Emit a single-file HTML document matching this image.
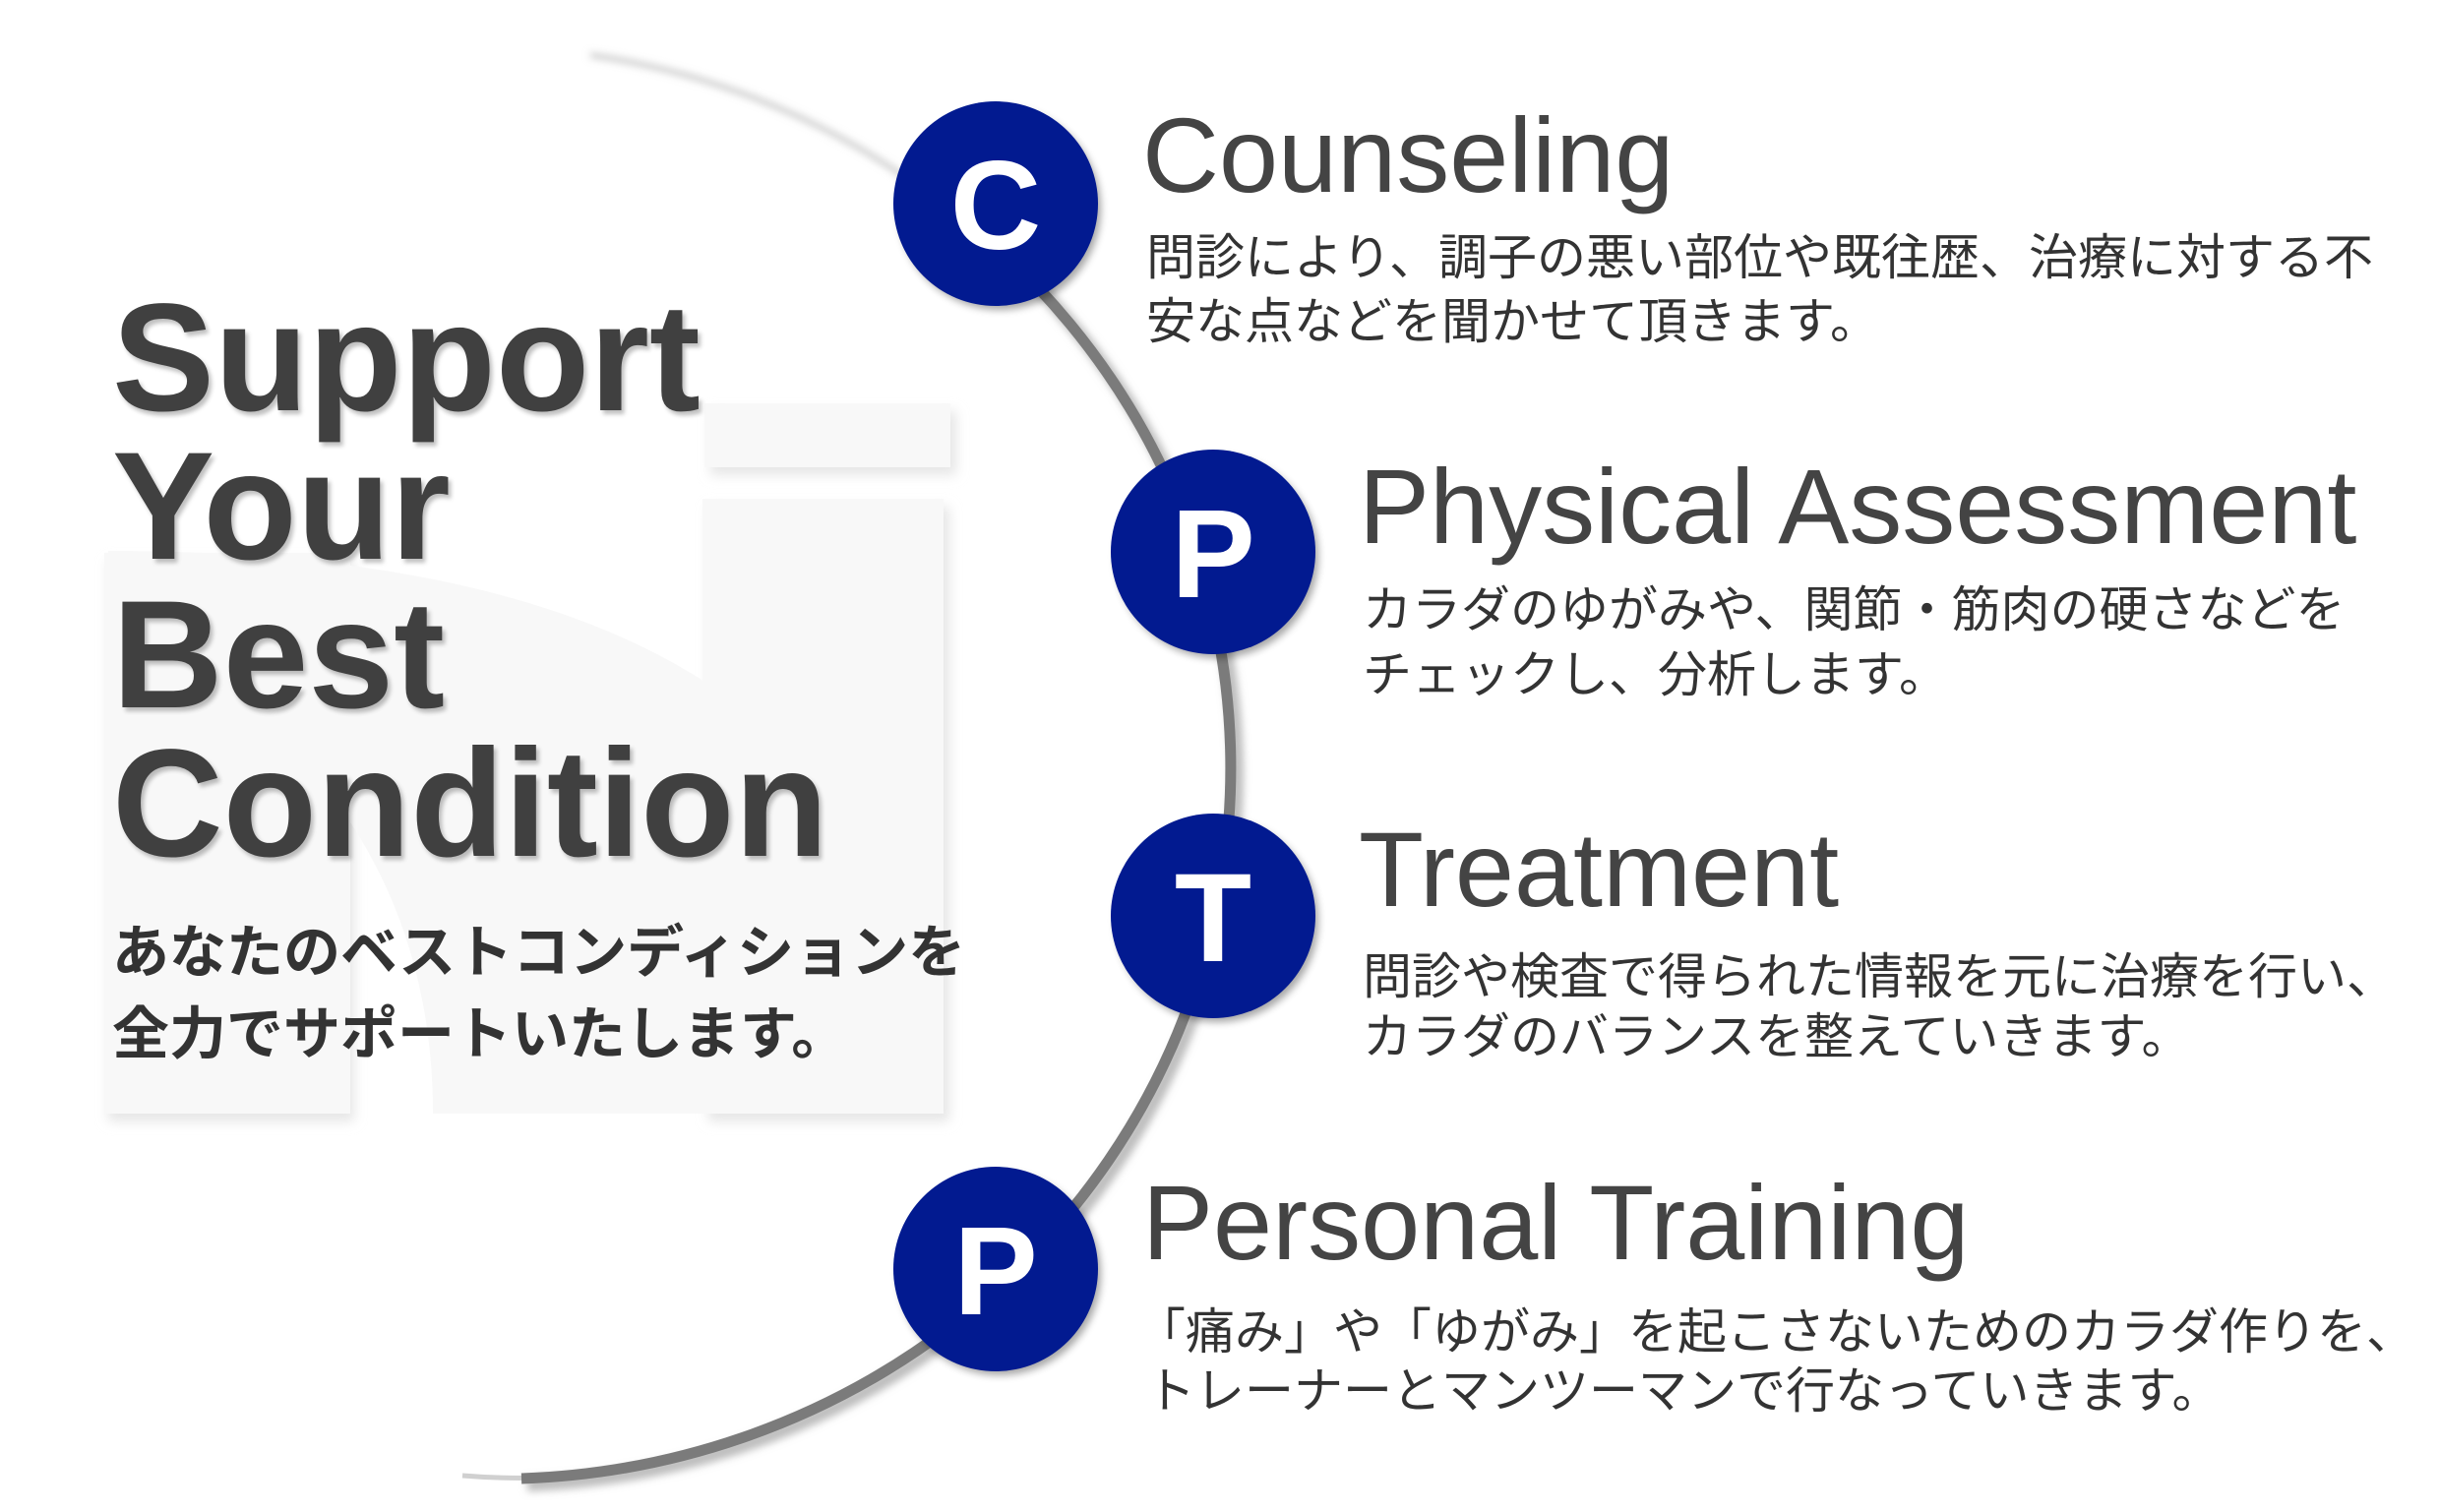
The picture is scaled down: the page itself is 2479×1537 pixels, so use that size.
<!DOCTYPE html>
<html><head><meta charset="utf-8"><style>
html,body{margin:0;padding:0;background:#fff;}
body{width:2479px;height:1537px;position:relative;overflow:hidden;font-family:"Liberation Sans","Noto Sans CJK JP",sans-serif;}
.t{position:absolute;white-space:nowrap;}
.big{font-weight:bold;font-size:156px;color:#404040;left:114px;letter-spacing:0px;text-shadow:3px 4px 4px rgba(0,0,0,0.25);line-height:1;}
.h{font-size:108px;color:#444;line-height:1;}
.b{font-size:50px;color:#333;line-height:1;}
.sub{font-size:58px;font-weight:bold;color:#333;left:114px;line-height:1;}
</style></head><body>
<svg width="2479" height="1537" style="position:absolute;left:0;top:0">
<defs>
<filter id="sh" x="-20%" y="-20%" width="140%" height="140%"><feGaussianBlur stdDeviation="6"/></filter>
<filter id="cs" x="-30%" y="-30%" width="160%" height="160%"><feGaussianBlur stdDeviation="4"/></filter>
</defs>
<g fill="#e6e6e6" filter="url(#sh)">
<rect x="722" y="418" width="250" height="65"/>
<rect x="720" y="515" width="245" height="625"/>
<rect x="110" y="570" width="250" height="570"/>
</g>
<g fill="#f8f8f8">
<rect x="716" y="410" width="250" height="65"/>
<rect x="714" y="507" width="245" height="625"/>
<rect x="106" y="562" width="250" height="570"/>
<path d="M110 560 Q600 560 800 760 Q950 900 950 1132 L440 1132 Q440 800 110 620 Z"/>
</g>
<!-- faint top / bottom arc -->
<path d="M 600 56 A 747 723 0 0 1 920 180" fill="none" stroke="#c8c8c8" stroke-width="5" filter="url(#cs)"/>
<path d="M 560 1502 A 747 723 0 0 1 470 1500" fill="none" stroke="#d0d0d0" stroke-width="5"/>
<path d="M 920 180 A 747 723 0 0 1 530 1503" fill="none" stroke="#bdbdbd" stroke-width="14" filter="url(#cs)" transform="translate(6,6)"/>
<path d="M 920 180 A 747 723 0 0 1 530 1503" fill="none" stroke="#7b7b7b" stroke-width="11"/>
<g fill="#000" opacity="0.35" filter="url(#cs)">
<circle cx="1016" cy="212" r="103"/><circle cx="1237" cy="566" r="103"/>
<circle cx="1237" cy="936" r="103"/><circle cx="1016" cy="1295" r="103"/>
</g>
<g fill="#021a90">
<circle cx="1012" cy="207" r="104"/><circle cx="1233" cy="561" r="104"/>
<circle cx="1233" cy="931" r="104"/><circle cx="1012" cy="1290" r="104"/>
</g>
<g fill="#fff" font-family="Liberation Sans, sans-serif" font-weight="bold" font-size="128" text-anchor="middle">
<text x="1012" y="253">C</text><text x="1233" y="607">P</text>
<text x="1233" y="977">T</text><text x="1012" y="1336">P</text>
</g>
</svg>
<div class="t big" style="top:286px">Support</div>
<div class="t big" style="top:437px">Your</div>
<div class="t big" style="top:588px">Best</div>
<div class="t big" style="top:739px">Condition</div>
<div class="t sub" style="top:940px">あなたのベストコンディションを</div>
<div class="t sub" style="top:1023px">全力でサポートいたします。</div>

<div class="t h" style="left:1161px;top:104px">Counseling</div>
<div class="t b" style="left:1165px;top:237px">問診により、調子の悪い部位や既往歴、治療に対する不</div>
<div class="t b" style="left:1165px;top:302px">安な点などを聞かせて頂きます。</div>

<div class="t h" style="left:1381px;top:461px">Physical Assessment</div>
<div class="t b" style="left:1385px;top:595px">カラダのゆがみや、関節・筋肉の硬さなどを</div>
<div class="t b" style="left:1385px;top:661px">チェックし、分析します。</div>

<div class="t h" style="left:1381px;top:830px">Treatment</div>
<div class="t b" style="left:1385px;top:968px">問診や検査で得られた情報を元に治療を行い、</div>
<div class="t b" style="left:1385px;top:1029px">カラダのバランスを整えていきます。</div>

<div class="t h" style="left:1161px;top:1189px">Personal Training</div>
<div class="t b" style="left:1155px;top:1329px">「痛み」や「ゆがみ」を起こさないためのカラダ作りを、</div>
<div class="t b" style="left:1165px;top:1389px">トレーナーとマンツーマンで行なっていきます。</div>
</body></html>
